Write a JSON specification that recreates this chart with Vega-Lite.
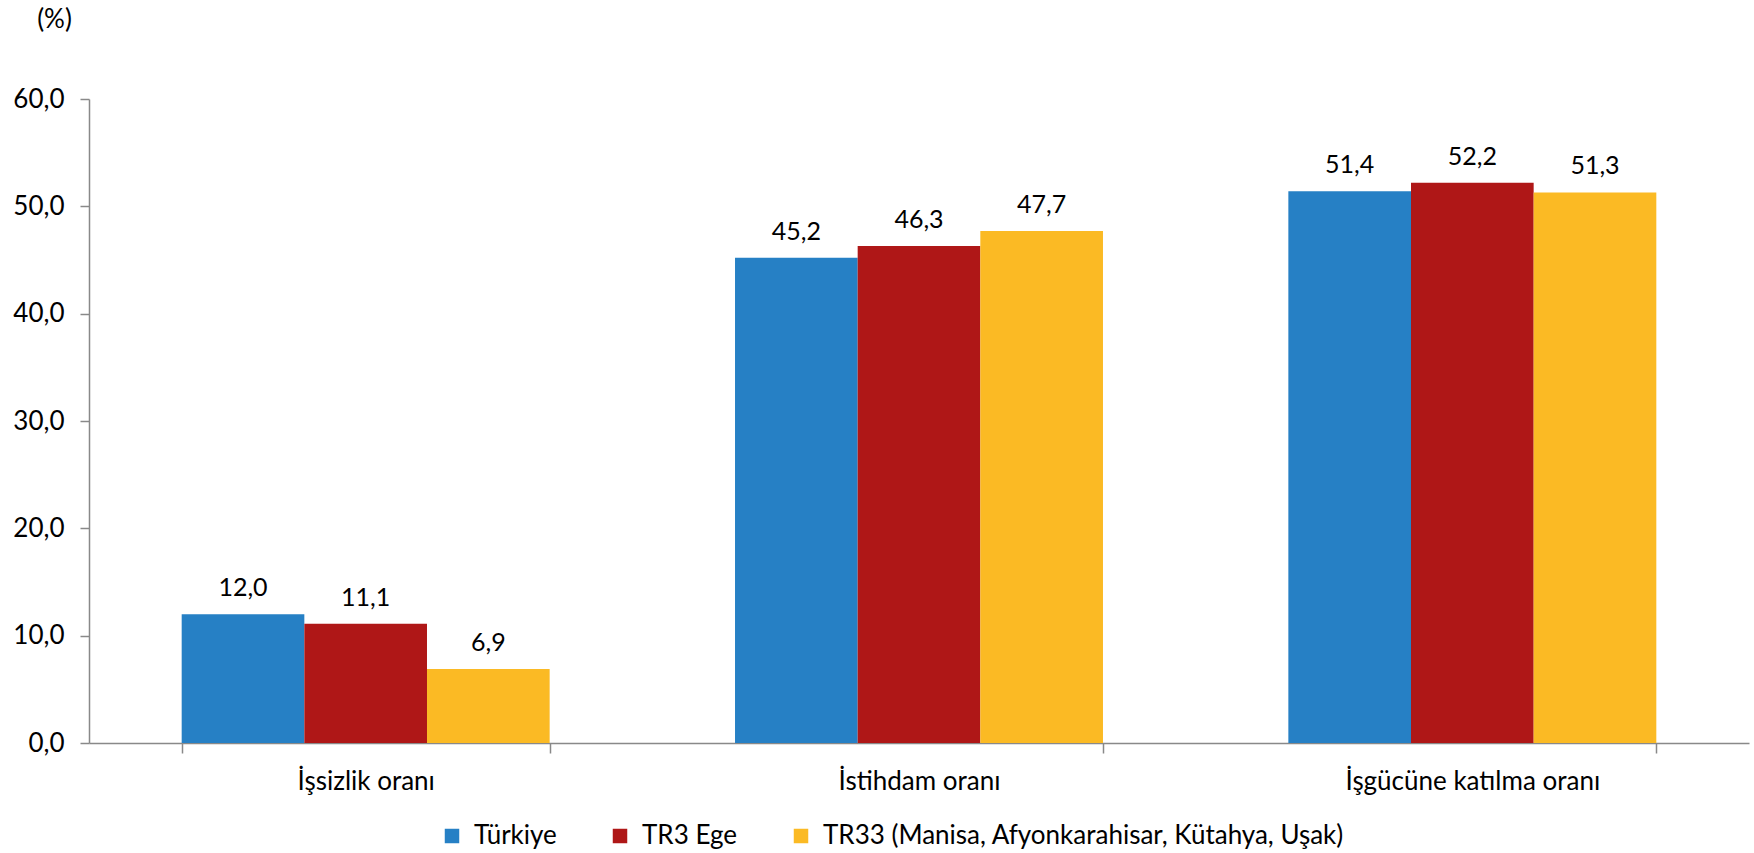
{
  "$schema": "https://vega.github.io/schema/vega-lite/v6.json",
  "width": 1660,
  "height": 644,
  "autosize": {"type": "none"},
  "padding": {"left": 89, "top": 99, "right": 5, "bottom": 110},
  "background": "white",
  "config": {
    "view": {"stroke": null},
    "font": "Lato",
    "locale": {"number": {"decimal": ",", "thousands": ".", "grouping": [3], "currency": ["", ""]}}
  },
  "data": {
    "values": [
      {"kategori": "İşsizlik oranı", "bolge": "Türkiye", "deger": 12.0},
      {"kategori": "İşsizlik oranı", "bolge": "TR3 Ege", "deger": 11.1},
      {"kategori": "İşsizlik oranı", "bolge": "TR33 (Manisa, Afyonkarahisar, Kütahya, Uşak)", "deger": 6.9},
      {"kategori": "İstihdam oranı", "bolge": "Türkiye", "deger": 45.2},
      {"kategori": "İstihdam oranı", "bolge": "TR3 Ege", "deger": 46.3},
      {"kategori": "İstihdam oranı", "bolge": "TR33 (Manisa, Afyonkarahisar, Kütahya, Uşak)", "deger": 47.7},
      {"kategori": "İşgücüne katılma oranı", "bolge": "Türkiye", "deger": 51.4},
      {"kategori": "İşgücüne katılma oranı", "bolge": "TR3 Ege", "deger": 52.2},
      {"kategori": "İşgücüne katılma oranı", "bolge": "TR33 (Manisa, Afyonkarahisar, Kütahya, Uşak)", "deger": 51.3}
    ]
  },
  "encoding": {
    "x": {
      "field": "kategori",
      "type": "nominal",
      "sort": ["İşsizlik oranı", "İstihdam oranı", "İşgücüne katılma oranı"],
      "scale": {"paddingInner": 0.335, "paddingOuter": 0.1675},
      "axis": {
        "title": null,
        "labelAngle": 0,
        "labelFontSize": 26,
        "labelColor": "#000000",
        "labelPadding": 15,
        "labelLimit": 1000,
        "tickBand": "extent",
        "tickSize": 10,
        "tickColor": "#898989",
        "domainColor": "#898989",
        "tickWidth": 1.5,
        "domainWidth": 1.5
      }
    },
    "xOffset": {
      "field": "bolge",
      "type": "nominal",
      "sort": ["Türkiye", "TR3 Ege", "TR33 (Manisa, Afyonkarahisar, Kütahya, Uşak)"],
      "scale": {"paddingInner": 0, "paddingOuter": 0}
    },
    "y": {
      "field": "deger",
      "type": "quantitative",
      "scale": {"domain": [0, 60], "nice": false},
      "axis": {
        "values": [0, 10, 20, 30, 40, 50, 60],
        "format": ".1f",
        "grid": false,
        "title": "(%)",
        "titleAngle": 0,
        "titleFontSize": 26,
        "titleFontWeight": "normal",
        "titleColor": "#000000",
        "titleX": -35,
        "titleY": -72,
        "titleAlign": "center",
        "titleBaseline": "alphabetic",
        "labelFontSize": 26,
        "labelColor": "#000000",
        "labelPadding": 16,
        "tickSize": 9,
        "tickColor": "#898989",
        "domainColor": "#898989",
        "tickWidth": 1.5,
        "domainWidth": 1.5
      }
    }
  },
  "layer": [
    {
      "mark": {"type": "bar"},
      "encoding": {
        "color": {
          "field": "bolge",
          "type": "nominal",
          "sort": ["Türkiye", "TR3 Ege", "TR33 (Manisa, Afyonkarahisar, Kütahya, Uşak)"],
          "scale": {
            "domain": ["Türkiye", "TR3 Ege", "TR33 (Manisa, Afyonkarahisar, Kütahya, Uşak)"],
            "range": ["#2680C5", "#AF1717", "#FBBA24"]
          },
          "legend": {
            "title": null,
            "orient": "none",
            "direction": "horizontal",
            "legendX": 350,
            "legendY": 724,
            "symbolType": "square",
            "symbolSize": 210,
            "symbolStrokeWidth": 0,
            "labelFontSize": 26,
            "labelColor": "#000000",
            "labelOffset": 9,
            "columnPadding": 50,
            "labelLimit": 1000
          }
        }
      }
    },
    {
      "mark": {"type": "text", "baseline": "alphabetic", "dy": -18, "fontSize": 25, "color": "#000000"},
      "encoding": {
        "text": {"field": "deger", "type": "quantitative", "format": ".1f"}
      }
    }
  ]
}
